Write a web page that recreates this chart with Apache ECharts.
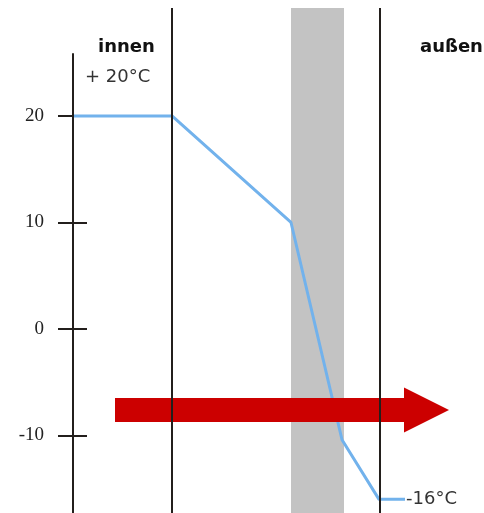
<!DOCTYPE html>
<html>
<head>
<meta charset="utf-8">
<script src="https://cdn.jsdelivr.net/npm/echarts@6/dist/echarts.min.js"></script>
<style>html,body{margin:0;padding:0;background:#fff;}#c{width:484px;height:513px;}</style>
</head>
<body>
<div id="c"></div>
<script>
// Data
const tickValues = [20, 10, 0, -10];
const profileX = [0, 99, 218, 269, 306, 332];     // position through wall
const profileT = [20, 20, 10, -10.4, -16, -16];  // temperature °C
const layerLines = [99, 307];
const bandRange = [218, 271];
const arrowStart = 42, arrowTip = 376, arrowLevel = -7.6;
const axisTop = 25.9;
const yMin = -17.28, yMax = 30.14;

const chart = echarts.init(document.getElementById('c'));
const lineData = profileX.map((x, i) => [x, profileT[i]]);

chart.setOption({
  animation: false,
  backgroundColor: '#fff',
  grid: { left: 73, right: 11, top: 8, bottom: 0 },
  xAxis: { type: 'value', min: 0, max: 400, show: false },
  yAxis: {
    type: 'value', min: yMin, max: yMax, offset: -14,
    splitLine: { show: false },
    axisLine: { show: false },
    axisTick: { show: true, length: 29, lineStyle: { color: '#231f1c', width: 2 }, customValues: tickValues },
    axisLabel: { show: true, margin: 43, customValues: tickValues, fontFamily: 'Liberation Serif', fontSize: 19, color: '#222' }
  },
  series: [
    {
      type: 'line', data: [], z: 1, silent: true,
      markArea: { silent: true, itemStyle: { color: '#c3c3c3' }, data: [[{ xAxis: bandRange[0] }, { xAxis: bandRange[1] }]] }
    },
    {
      type: 'line', z: 2, silent: true, symbol: 'none',
      data: [],
      markLine: {
        silent: true, symbol: ['none', 'none'], label: { show: false },
        lineStyle: { color: '#231f1c', width: 2, type: 'solid' },
        data: layerLines.map(x => ({ xAxis: x })).concat([[{ coord: [0, axisTop] }, { coord: [0, yMin] }]])
      }
    },
    {
      type: 'line', z: 3, symbol: 'none', showSymbol: false,
      lineStyle: { color: '#72b2ec', width: 3 },
      data: lineData,
      endLabel: {
        show: true, distance: 1,
        formatter: p => Math.round(p.value[1]) + '°C',
        color: '#333', fontFamily: 'DejaVu Sans', fontSize: 18
      }
    },
    {
      type: 'custom', z: 4, silent: true,
      data: [[arrowStart, arrowTip, arrowLevel]],
      renderItem: (params, api) => {
        const p0 = api.coord([api.value(0), api.value(2)]);
        const p1 = api.coord([api.value(1), api.value(2)]);
        const y = p0[1], hs = 12, hl = 45, hh = 22.5;
        return {
          type: 'polygon',
          shape: { points: [[p0[0], y - hs], [p1[0] - hl, y - hs], [p1[0] - hl, y - hh], [p1[0], y], [p1[0] - hl, y + hh], [p1[0] - hl, y + hs], [p0[0], y + hs]] },
          style: { fill: '#cc0000' }
        };
      }
    }
  ],
  graphic: [
    { type: 'text', left: 98, top: 38, style: { text: 'innen', font: 'bold 18px "DejaVu Sans"', fill: '#111' } },
    { type: 'text', left: 420, top: 38, style: { text: 'außen', font: 'bold 18px "DejaVu Sans"', fill: '#111' } },
    { type: 'text', left: 85, top: 68, style: { text: '+ 20°C', font: '18px "DejaVu Sans"', fill: '#333' } }
  ]
});
</script>
</body>
</html>
